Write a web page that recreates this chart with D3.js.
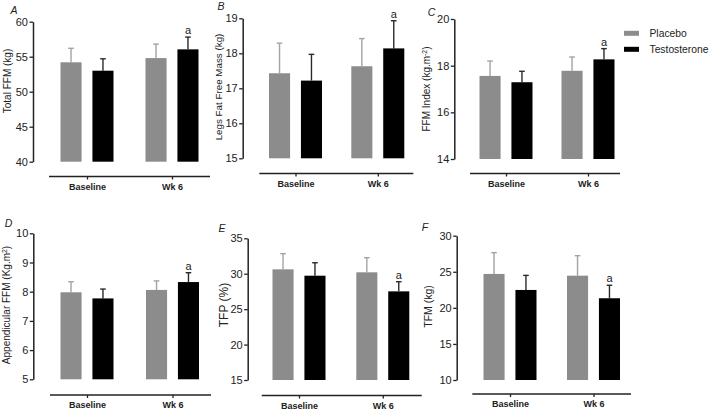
<!DOCTYPE html>
<html><head><meta charset="utf-8">
<script src="https://cdn.jsdelivr.net/npm/d3@7"></script>
<style>body{margin:0;background:#fff}svg{display:block}text{font-family:"Liberation Sans",Arial,sans-serif}</style>
</head><body><svg id="c" width="709" height="412"></svg>
<script>
// ---- data ----
const groups = ["Baseline", "Wk 6"];
const series = ["Placebo", "Testosterone"];
const panelLetters = ["A", "B", "C", "D", "E", "F"];
const yTitles = ["Total FFM (kg)", "Legs Fat Free Mass (kg)", "FFM Index (kg.m|-2|)", "Appendicular FFM (Kg.m|2|)", "TFP (%)", "TFM (kg)"];
const yDomains = [[40, 60], [15, 19], [14, 20], [5, 10], [15, 35], [10, 30]];
const yTickValues = [[40, 45, 50, 55, 60], [15, 16, 17, 18, 19], [14, 16, 18, 20], [5, 6, 7, 8, 9, 10], [15, 20, 25, 30, 35], [10, 15, 20, 25, 30]];
const placeboMean = [[54.2, 54.8], [17.43, 17.63], [17.56, 17.78], [7.98, 8.06], [30.62, 30.2], [24.7, 24.46]];
const placeboSD   = [[2.0, 2.0], [0.86, 0.79], [0.64, 0.59], [0.36, 0.31], [2.21, 2.06], [2.95, 2.77]];
const testoMean   = [[53.0, 56.05], [17.22, 18.14], [17.29, 18.27], [7.77, 8.33], [29.72, 27.51], [22.48, 21.33]];
const testoSD     = [[1.7, 1.75], [0.75, 0.79], [0.47, 0.46], [0.32, 0.32], [1.83, 1.36], [2.02, 1.8]];
const sigMark = [["", "a"], ["", "a"], ["", "a"], ["", "a"], ["", "a"], ["", "a"]];

// ---- layout ----
const layout = [
  {ax: 33,    yt: 21.7,  yb: 161.7, c: [87, 172],     xy: 176.5, xl: [49, 210],      lx: 14,    ly: 10,    tx: 7.5,   ty: 81,    fs: 10},
  {ax: 242.7, yt: 18.3,  yb: 158.3, c: [295.5, 377.8], xy: 173.5, xl: [259.3, 413.3], lx: 221,   ly: 6,     tx: 218.5, ty: 87,    fs: 9.8},
  {ax: 454.3, yt: 19,    yb: 159,   c: [506, 588],     xy: 173.5, xl: [470, 620],     lx: 431.5, ly: 12,    tx: 426.5, ty: 89,    fs: 10},
  {ax: 33.3,  yt: 233.3, yb: 379.3, c: [87, 172.5],   xy: 395,   xl: [50, 211],      lx: 8.5,   ly: 223,   tx: 6.5,   ty: 305,   fs: 10},
  {ax: 247.7, yt: 238.3, yb: 380,   c: [299, 382.8],  xy: 395.5, xl: [261.7, 421.7], lx: 222,   ly: 227.5, tx: 223.5, ty: 305,   fs: 12},
  {ax: 456.7, yt: 235.7, yb: 380,   c: [510, 593.5],  xy: 394,   xl: [472.3, 631],   lx: 425,   ly: 227,   tx: 428.5, ty: 306.5, fs: 10.5}
];
const colors = {Placebo: "#8c8c8c", Testosterone: "#000000"};
const errColors = {Placebo: "#a3a3a3", Testosterone: "#2a2a2a"};

const svg = d3.select("#c");

layout.forEach((L, i) => {
  const g = svg.append("g");
  const y = d3.scaleLinear().domain(yDomains[i]).range([L.yb, L.yt]);
  const xg = d3.scalePoint().domain(groups).range(L.c);
  const xs = d3.scaleBand().domain(series).range([-26.5, 26.5]).paddingInner(0.34);

  const rows = [];
  groups.forEach((grp, gi) => {
    rows.push({grp, s: "Placebo", m: placeboMean[i][gi], sd: placeboSD[i][gi], sig: ""});
    rows.push({grp, s: "Testosterone", m: testoMean[i][gi], sd: testoSD[i][gi], sig: sigMark[i][gi]});
  });

  // error bars (upper only)
  rows.forEach(r => {
    const cx = xg(r.grp) + xs(r.s) + xs.bandwidth() / 2;
    g.append("line").attr("x1", cx).attr("x2", cx).attr("y1", y(r.m)).attr("y2", y(r.m + r.sd))
      .attr("stroke", errColors[r.s]).attr("stroke-width", 1.4);
    g.append("line").attr("x1", cx - 2.8).attr("x2", cx + 2.8).attr("y1", y(r.m + r.sd)).attr("y2", y(r.m + r.sd))
      .attr("stroke", errColors[r.s]).attr("stroke-width", 1.4);
    if (r.sig) {
      g.append("text").attr("x", cx).attr("y", y(r.m + r.sd) - 3).attr("text-anchor", "middle")
        .attr("font-size", 11).attr("fill", "#222").text(r.sig);
    }
  });
  // bars
  g.selectAll("rect.bar").data(rows).join("rect").attr("class", "bar")
    .attr("x", d => xg(d.grp) + xs(d.s))
    .attr("width", xs.bandwidth())
    .attr("y", d => y(d.m))
    .attr("height", d => y(yDomains[i][0]) - y(d.m))
    .attr("fill", d => colors[d.s]);

  // y axis
  const ya = g.append("g").attr("transform", `translate(${L.ax},0)`)
    .call(d3.axisLeft(y).tickValues(yTickValues[i]).tickFormat(d3.format("d")).tickSize(3.5).tickPadding(1.5).tickSizeOuter(0));
  ya.select(".domain").attr("stroke", "#222").attr("stroke-width", 1.5);
  ya.selectAll(".tick line").attr("stroke", "#222").attr("stroke-width", 1.3);
  ya.selectAll(".tick text").attr("font-size", 11).attr("fill", "#222").attr("font-family", "Liberation Sans, Arial, sans-serif");

  // x axis (detached line)
  const xa = g.append("g").attr("transform", `translate(0,${L.xy})`)
    .call(d3.axisBottom(xg).tickSize(3).tickPadding(4).tickSizeOuter(0));
  xa.select(".domain").remove();
  g.append("line").attr("x1", L.xl[0]).attr("x2", L.xl[1]).attr("y1", L.xy).attr("y2", L.xy)
    .attr("stroke", "#222").attr("stroke-width", 1.5);
  xa.selectAll(".tick line").attr("stroke", "#222").attr("stroke-width", 1.3);
  xa.selectAll(".tick text").attr("font-size", 9).attr("font-weight", "bold").attr("fill", "#222")
    .attr("font-family", "Liberation Sans, Arial, sans-serif");

  // y title (rotated)
  const t = g.append("text").attr("transform", `translate(${L.tx + L.fs * 0.36},${L.ty}) rotate(-90)`)
    .attr("text-anchor", "middle").attr("font-size", L.fs).attr("fill", "#222");
  const parts = yTitles[i].split("|");
  parts.forEach((p, k) => {
    if (!p) return;
    const ts = t.append("tspan").text(p);
    if (k % 2 === 1) ts.attr("font-size", L.fs * 0.68).attr("baseline-shift", "super");
  });

  // panel letter
  g.append("text").attr("x", L.lx).attr("y", L.ly + 4).attr("text-anchor", "middle")
    .attr("font-size", 10.5).attr("font-style", "italic").attr("fill", "#222").text(panelLetters[i]);
});

// legend
const leg = svg.append("g");
series.forEach((s, k) => {
  const ly = [33.3, 49.3][k];
  leg.append("rect").attr("x", 624).attr("y", ly - 2.5).attr("width", 15).attr("height", 5).attr("fill", colors[s]);
  leg.append("text").attr("x", 649.5).attr("y", ly + 3.5).attr("font-size", 10.3).attr("fill", "#222").text(s);
});
</script></body></html>
